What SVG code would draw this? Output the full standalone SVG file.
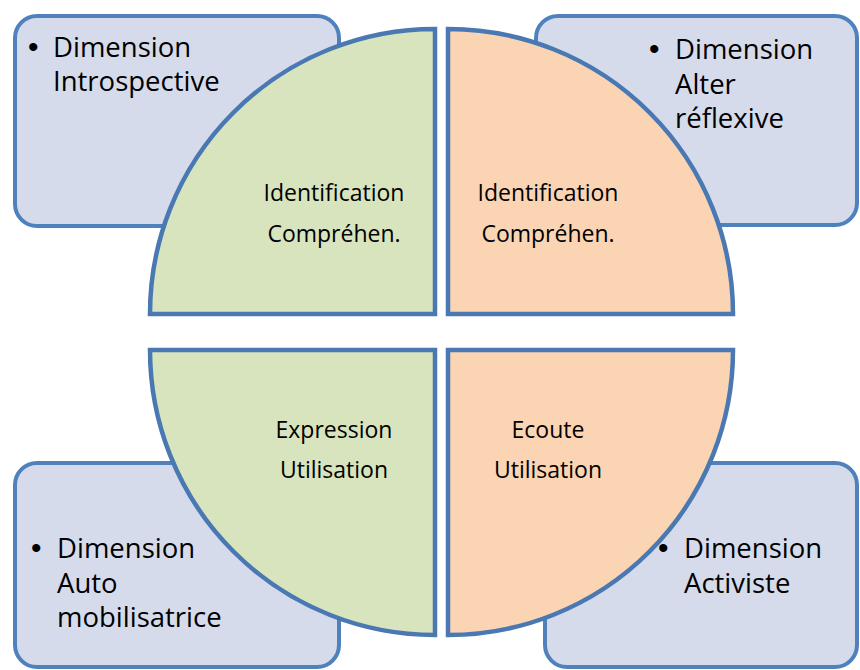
<svg xmlns="http://www.w3.org/2000/svg" width="860" height="670" viewBox="0 0 860 670">
<style>
.box{fill:#D5DBEA;stroke:#4F81BD;stroke-width:4}
.q{stroke:#4A78B2;stroke-width:4.5;stroke-linejoin:miter}
.g{fill:#D7E4BD}
.o{fill:#FBD4B4}
.t{font-family:"Open Sans","Liberation Sans",sans-serif;font-size:27.5px;fill:#000}
.b{font-family:"Liberation Sans",sans-serif;font-size:30px;fill:#000}
.i{font-family:"Open Sans","Liberation Sans",sans-serif;font-size:23px;fill:#000;text-anchor:middle}
</style>
<rect width="860" height="670" fill="#fff"/>
<g id="box-introspective">
<rect class="box" x="15" y="16" width="324" height="210" rx="22"/>
<text class="b" x="28" y="57">•</text>
<text class="t" x="53" y="57">Dimension</text>
<text class="t" x="53" y="91">Introspective</text>
</g>
<g id="box-alter">
<rect class="box" x="536" y="16" width="321" height="209" rx="22"/>
<text class="b" x="649" y="59">•</text>
<text class="t" x="675" y="59">Dimension</text>
<text class="t" x="675" y="94">Alter</text>
<text class="t" x="675" y="128">réflexive</text>
</g>
<g id="box-auto">
<rect class="box" x="15" y="463" width="324" height="204" rx="22"/>
<text class="b" x="31" y="558">•</text>
<text class="t" x="57" y="558">Dimension</text>
<text class="t" x="57" y="593">Auto</text>
<text class="t" x="57" y="627">mobilisatrice</text>
</g>
<g id="box-activiste">
<rect class="box" x="545" y="463" width="312" height="204" rx="22"/>
<text class="b" x="658" y="558">•</text>
<text class="t" x="684" y="558">Dimension</text>
<text class="t" x="684" y="593">Activiste</text>
</g>
<g id="q-tl">
<path class="q g" d="M435,314 L150,314 A285,285 0 0 1 435,29 Z"/>
<text class="i" x="334" y="201">Identification</text>
<text class="i" x="334" y="242">Compréhen.</text>
</g>
<g id="q-tr">
<path class="q o" d="M448,314 L448,29 A285,285 0 0 1 733,314 Z"/>
<text class="i" x="548" y="201">Identification</text>
<text class="i" x="548" y="242">Compréhen.</text>
</g>
<g id="q-bl">
<path class="q g" d="M435,350 L435,635 A285,285 0 0 1 150,350 Z"/>
<text class="i" x="334" y="438">Expression</text>
<text class="i" x="334" y="478">Utilisation</text>
</g>
<g id="q-br">
<path class="q o" d="M448,350 L733,350 A285,285 0 0 1 448,635 Z"/>
<text class="i" x="548" y="438">Ecoute</text>
<text class="i" x="548" y="478">Utilisation</text>
</g>
<g id="connectors"></g>
</svg>
